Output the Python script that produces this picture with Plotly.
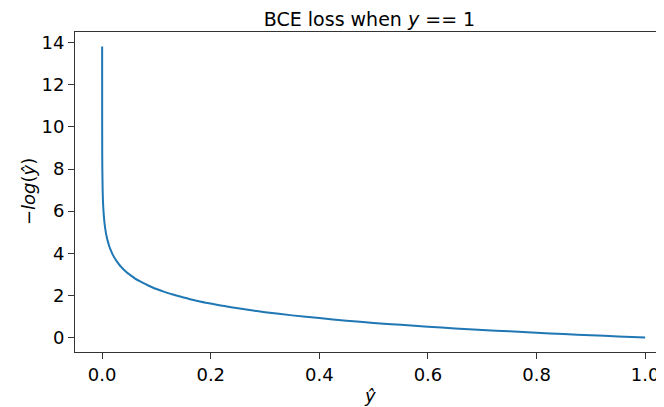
import plotly.graph_objects as go

# Values (y_hat, loss)
y_hat = [0.000001, 0.000003, 0.00001, 0.00003, 0.0001, 0.0003, 0.001, 0.0015, 0.002,
         0.003, 0.004, 0.005, 0.006, 0.007, 0.008, 0.009, 0.01, 0.0125, 0.015, 0.0175,
         0.02, 0.025, 0.03, 0.035, 0.04, 0.045, 0.05, 0.06, 0.07, 0.08, 0.09, 0.1,
         0.11, 0.12, 0.13, 0.14, 0.16, 0.18, 0.2, 0.225, 0.25, 0.275, 0.3, 0.35, 0.4,
         0.45, 0.5, 0.55, 0.6, 0.65, 0.7, 0.75, 0.8, 0.85, 0.9, 0.95, 1.0]
loss = [13.82, 12.72, 11.51, 10.41, 9.21, 8.11, 6.91, 6.50, 6.21,
        5.81, 5.52, 5.30, 5.12, 4.96, 4.83, 4.71, 4.61, 4.38, 4.20, 4.05,
        3.91, 3.69, 3.51, 3.35, 3.22, 3.10, 3.00, 2.81, 2.66, 2.53, 2.41, 2.30,
        2.21, 2.12, 2.04, 1.97, 1.83, 1.71, 1.61, 1.49, 1.39, 1.29, 1.20, 1.05, 0.92,
        0.80, 0.69, 0.60, 0.51, 0.43, 0.36, 0.29, 0.22, 0.16, 0.11, 0.05, 0.0]

x_ticks = [0.0, 0.2, 0.4, 0.6, 0.8, 1.0]
x_tick_labels = ["0.0", "0.2", "0.4", "0.6", "0.8", "1.0"]
y_ticks = [0, 2, 4, 6, 8, 10, 12, 14]

fig = go.Figure()
fig.add_trace(go.Scatter(x=y_hat, y=loss, mode="lines",
                         line=dict(color="#1f77b4", width=2, shape="spline", smoothing=0.6),
                         showlegend=False))

# page body has an 8px default margin, so the figure is shifted by 8px
W, H = 656, 399
font = dict(family="DejaVu Sans", size=18, color="black")
fig.update_layout(
    width=W, height=H,
    margin=dict(l=67, r=0, t=24, b=55, autoexpand=False),
    paper_bgcolor="white", plot_bgcolor="white",
    font=font,
    title=dict(text="BCE loss when <i>y</i> == 1", x=0.5, xref="paper",
               y=1 - 11 / H, yref="container", xanchor="center", yanchor="middle",
               font=dict(family="DejaVu Sans", size=19, color="black")),
    annotations=[
        dict(text="<i>ŷ</i>", xref="paper", yref="paper", x=0.5, y=-(395 - 352) / 320,
             xanchor="center", yanchor="middle", showarrow=False, font=font),
        dict(text="−<i>log</i>(<i>ŷ</i>)", xref="paper", yref="paper",
             x=-(75 - 28) / 589, y=0.5, xanchor="center", yanchor="middle",
             textangle=-90, showarrow=False, font=font),
    ],
)
fig.update_xaxes(
    range=[-0.05, 1.0347], tickvals=x_ticks, ticktext=x_tick_labels, automargin=False,
    showgrid=False, zeroline=False, showline=True, linecolor="#333", linewidth=1,
    mirror=True, ticks="outside", ticklen=6, tickcolor="#333",
)
fig.update_yaxes(
    range=[-0.69, 14.51], tickvals=y_ticks, automargin=False,
    showgrid=False, zeroline=False, showline=True, linecolor="#333", linewidth=1,
    ticks="outside", ticklen=6, tickcolor="#333",
)

fig.write_html("out.html")
